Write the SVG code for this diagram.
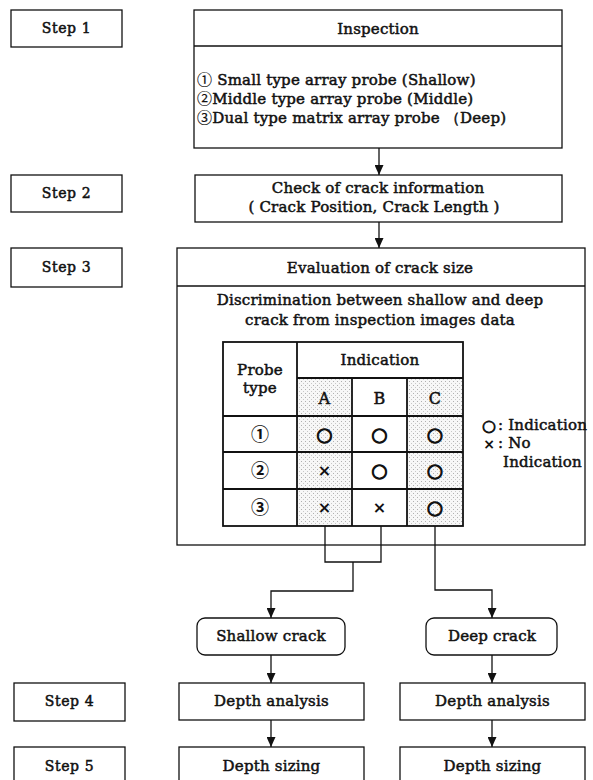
<svg xmlns="http://www.w3.org/2000/svg" width="593" height="780" viewBox="0 0 593 780">
<style>
.box{fill:#fff;stroke:#111;stroke-width:1.3}
.tbl{fill:none;stroke:#111;stroke-width:1.8}
.ln{fill:none;stroke:#111;stroke-width:1.3}
.t,.tl,.s{font-family:"DejaVu Serif","Liberation Serif",serif;font-weight:normal;font-size:15px;letter-spacing:0.2px;fill:#111;stroke:#111;stroke-width:0.5}
.t{text-anchor:middle}
.tl{text-anchor:start}
.s{font-size:14px;letter-spacing:0.6px;text-anchor:middle}
.c{font-family:"Noto Sans CJK JP","DejaVu Sans",sans-serif;font-size:15px;stroke-width:0.2}
.sym{font-family:"DejaVu Sans","Noto Sans CJK JP",sans-serif;font-weight:bold;font-size:19px;fill:#111;text-anchor:middle;stroke:#111;stroke-width:1}
.x{font-family:"DejaVu Sans","Noto Sans CJK JP",sans-serif;font-weight:bold;font-size:16px;fill:#111;text-anchor:middle}
.num{font-family:"Noto Sans CJK JP","DejaVu Sans",sans-serif;font-weight:bold;font-size:18px;fill:#111;text-anchor:middle}
</style>
<defs>
<pattern id="dots" width="4" height="4" patternUnits="userSpaceOnUse">
<rect width="4" height="4" fill="#f7f7f7"/>
<rect x="1" y="1" width="1" height="1" fill="#b0b0b0"/>
<rect x="3" y="3" width="1" height="1" fill="#c8c8c8"/>
</pattern>
<marker id="arr" markerWidth="10" markerHeight="9" refX="10" refY="4.5" orient="auto" markerUnits="userSpaceOnUse" viewBox="0 0 10 9">
<path d="M0,0 L10,4.5 L0,9 Z" fill="#111"/>
</marker>
</defs>
<rect width="593" height="780" fill="#fff"/>

<g id="step1"><rect class="box" x="11" y="10" width="111" height="37"/><text class="s" x="66.5" y="33">Step 1</text></g>
<g id="step2"><rect class="box" x="11" y="175" width="111" height="37"/><text class="s" x="66.5" y="198">Step 2</text></g>
<g id="step3"><rect class="box" x="11" y="248" width="111" height="39"/><text class="s" x="66.5" y="272">Step 3</text></g>
<g id="step4"><rect class="box" x="14" y="683" width="111" height="38"/><text class="s" x="69.5" y="706">Step 4</text></g>
<g id="step5"><rect class="box" x="14" y="747" width="111" height="40"/><text class="s" x="69.5" y="771">Step 5</text></g>

<g id="inspection">
<rect class="box" x="194" y="10" width="368" height="138"/>
<line class="ln" x1="194" y1="46" x2="562" y2="46"/>
<text class="t" x="378" y="34">Inspection</text>
<text class="tl" x="197" y="85"><tspan class="c">①</tspan> Small type  array probe (Shallow)</text>
<text class="tl" x="197" y="104"><tspan class="c">②</tspan>Middle type array probe (Middle)</text>
<text class="tl" x="197" y="123"><tspan class="c">③</tspan>Dual type matrix array probe （Deep)</text>
</g>

<g id="check">
<rect class="box" x="195" y="175" width="367" height="47"/>
<text class="t" x="378" y="193">Check of crack information</text>
<text class="t" x="374" y="212">( Crack Position, Crack Length )</text>
</g>

<g id="evaluation">
<rect class="box" x="177" y="248" width="408" height="297"/>
<line class="ln" x1="177" y1="286" x2="585" y2="286"/>
<text class="t" x="380" y="273">Evaluation of crack size</text>
<text class="t" x="380" y="305">Discrimination between shallow and deep</text>
<text class="t" x="380" y="325">crack from inspection images data</text>
</g>

<g id="table">
<rect x="297" y="378" width="55" height="148" fill="url(#dots)"/>
<rect x="407" y="378" width="56" height="148" fill="url(#dots)"/>
<rect class="tbl" x="223" y="342" width="240" height="184"/>
<line class="tbl" x1="297" y1="342" x2="297" y2="526"/>
<line class="tbl" x1="352" y1="378" x2="352" y2="526"/>
<line class="tbl" x1="407" y1="378" x2="407" y2="526"/>
<line class="tbl" x1="297" y1="378" x2="463" y2="378"/>
<line class="tbl" x1="223" y1="416" x2="463" y2="416"/>
<line class="tbl" x1="223" y1="452" x2="463" y2="452"/>
<line class="tbl" x1="223" y1="489" x2="463" y2="489"/>
<text class="t" x="260" y="375">Probe</text>
<text class="t" x="260" y="393">type</text>
<text class="t" x="380" y="365">Indication</text>
<text class="t" x="324.5" y="404" style="font-size:16px">A</text>
<text class="t" x="379.5" y="404" style="font-size:16px">B</text>
<text class="t" x="435" y="404" style="font-size:16px">C</text>
<text class="num" x="260" y="441">①</text>
<text class="num" x="260" y="477">②</text>
<text class="num" x="260" y="514">③</text>
<text class="sym" x="324.5" y="441">○</text>
<text class="sym" x="379.5" y="441">○</text>
<text class="sym" x="435" y="441">○</text>
<text class="x" x="324.5" y="476">×</text>
<text class="sym" x="379.5" y="477">○</text>
<text class="sym" x="435" y="477">○</text>
<text class="x" x="324.5" y="513">×</text>
<text class="x" x="379.5" y="513">×</text>
<text class="sym" x="435" y="514">○</text>
</g>

<g id="legend">
<text class="sym" x="489" y="431" style="font-size:16px;stroke-width:0.8">○</text>
<text class="tl" x="498" y="430">: Indication</text>
<text class="x" x="489" y="449" style="font-size:14px">×</text>
<text class="tl" x="498" y="448">: No</text>
<text class="tl" x="503" y="467">Indication</text>
</g>

<g id="shallow"><rect class="box" x="197" y="618" width="148" height="37" rx="8"/><text class="t" x="271" y="641">Shallow crack</text></g>
<g id="deep"><rect class="box" x="426" y="618" width="131" height="37" rx="8"/><text class="t" x="492" y="641">Deep crack</text></g>
<g id="analysis1"><rect class="box" x="179" y="683" width="185" height="37"/><text class="t" x="271.5" y="706">Depth analysis</text></g>
<g id="analysis2"><rect class="box" x="400" y="683" width="185" height="37"/><text class="t" x="492.5" y="706">Depth analysis</text></g>
<g id="sizing1"><rect class="box" x="179" y="747" width="185" height="40"/><text class="t" x="271.5" y="771">Depth sizing</text></g>
<g id="sizing2"><rect class="box" x="400" y="747" width="185" height="40"/><text class="t" x="492.5" y="771">Depth sizing</text></g>

<g id="connectors">
<line class="ln" x1="379" y1="148" x2="379" y2="175" marker-end="url(#arr)"/>
<line class="ln" x1="379" y1="222" x2="379" y2="248" marker-end="url(#arr)"/>
<polyline class="ln" points="325,526 325,562 381,562 381,526"/>
<polyline class="ln" points="353,562 353,591 271,591 271,618" marker-end="url(#arr)"/>
<polyline class="ln" points="435,526 435,590 492,590 492,618" marker-end="url(#arr)"/>
<line class="ln" x1="271" y1="655" x2="271" y2="683" marker-end="url(#arr)"/>
<line class="ln" x1="492" y1="655" x2="492" y2="683" marker-end="url(#arr)"/>
<line class="ln" x1="271" y1="720" x2="271" y2="747" marker-end="url(#arr)"/>
<line class="ln" x1="492" y1="720" x2="492" y2="747" marker-end="url(#arr)"/>
</g>
</svg>
